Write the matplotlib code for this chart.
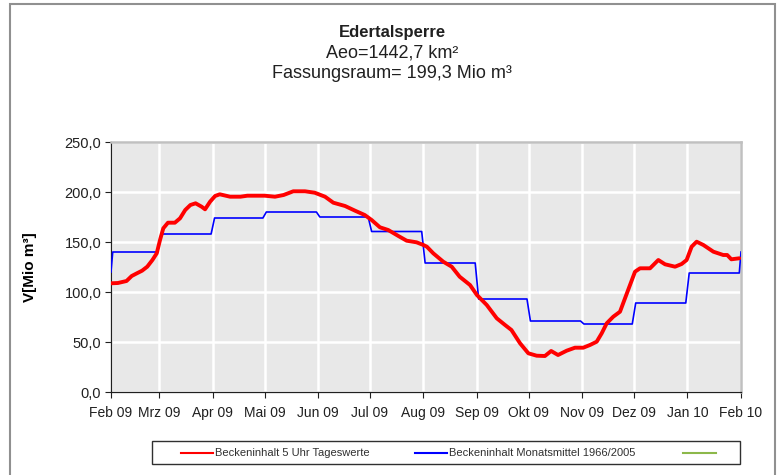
import matplotlib
matplotlib.use("Agg")
import matplotlib.pyplot as plt
from matplotlib.lines import Line2D
from matplotlib.patches import Rectangle
import pandas as pd

plt.rcParams['font.family'] = ['Liberation Sans', 'DejaVu Sans']

# --- data ---
start = pd.Timestamp("2009-02-01")

# daily reservoir content (5 am), sampled by eye: day offset from 1 Feb 2009, Mio m3
red_days = [0, 4, 9, 12, 15, 18, 21, 24, 26.5, 28.4, 30.3, 33, 37, 40, 43, 46, 49,
            52.5, 54.5, 57.4, 60.3, 63, 69, 75, 79, 89, 95, 100, 105.6, 112.4, 118,
            124, 128.8, 135.6, 141.4, 147, 151, 155.8, 160.6, 166.5, 171.3, 177, 181,
            183, 186.7, 192.5, 197.4, 202, 208, 212, 217.7, 223.5, 228.3, 232, 237,
            241.8, 246.6, 251.4, 255, 259, 264, 268.8, 273.6, 277.5, 281.4, 284.3,
            287.2, 291, 294.9, 297.8, 300.7, 303.6, 306.5, 312.3, 317.1, 321, 326.8,
            330.6, 333.5, 336.4, 339.3, 343.2, 349, 354.7, 357, 359.4, 364]
red_values = [108.7, 109, 111, 116, 118.7, 121.3, 125.3, 132, 138.7, 152, 163.7, 169.3,
              169.3, 173.7, 182, 187, 188.7, 185.3, 182.7, 190.3, 196, 197.7, 195.3,
              195.3, 196.3, 196.3, 195.3, 197, 200.7, 200.7, 199.3, 195.3, 189.3, 186,
              181.3, 177, 172, 164.7, 162, 156, 151.3, 149.7, 147, 145.3, 138.7, 130.3,
              125.3, 115.3, 107, 97, 87, 73.7, 67, 62, 48.7, 38.7, 36.3, 36, 41, 37,
              41.3, 44.3, 44.3, 47, 50.3, 58.7, 68.7, 75.3, 80.3, 93.7, 107, 120.3,
              123.7, 123.7, 132, 127.7, 125.3, 128, 132, 145.3, 150.3, 147, 140.3, 137,
              137, 132.7, 133.7]

# monthly mean 1966/2005
month_starts = ["2009-02-01", "2009-03-01", "2009-04-01", "2009-05-01", "2009-06-01",
                "2009-07-01", "2009-08-01", "2009-09-01", "2009-10-01", "2009-11-01",
                "2009-12-01", "2010-01-01", "2010-02-01"]
month_means = [140, 158, 174, 180, 175, 160.5, 129, 93, 71, 68, 89, 119, 140]
first_value = 120

tick_labels = ["Feb 09", "Mrz 09", "Apr 09", "Mai 09", "Jun 09", "Jul 09", "Aug 09",
               "Sep 09", "Okt 09", "Nov 09", "Dez 09", "Jan 10", "Feb 10"]

red_x = [start + pd.Timedelta(days=d) for d in red_days]
ms = pd.to_datetime(month_starts)

# step line: hold each monthly mean to the last day of its month
blue_x = [ms[0]]
blue_y = [first_value]
for i in range(len(ms) - 1):
    blue_x += [ms[i] + pd.Timedelta(days=1), ms[i + 1] - pd.Timedelta(days=1)]
    blue_y += [month_means[i], month_means[i]]
blue_x.append(ms[-1])
blue_y.append(month_means[-1])

fig = plt.figure(figsize=(7.82, 4.75), dpi=100, facecolor='white')
ax = fig.add_axes([111 / 782, 1 - 392 / 475, 630 / 782, 250 / 475])
ax.set_facecolor('#e8e8e8')

ax.plot(blue_x, blue_y, color='#0000ff', lw=1.2, zorder=3)
ax.plot(red_x, red_values, color='#ff0000', lw=2.8, zorder=4,
        solid_capstyle='round', solid_joinstyle='round')

ax.set_xlim(ms[0], ms[-1])
ax.set_ylim(0, 250)
ax.set_xticks(ms)
ax.set_xticklabels(tick_labels, fontsize=10, color='#202020')
ax.set_yticks([0, 50, 100, 150, 200, 250])
ax.set_yticklabels(["0,0", "50,0", "100,0", "150,0", "200,0", "250,0"],
                   fontsize=10.5, color='#202020')
ax.tick_params(axis='both', direction='out', length=4, width=0.8, color='#202020')
ax.tick_params(axis='x', pad=6)
ax.tick_params(axis='y', pad=3)
ax.grid(True, color='white', lw=1.8)
ax.set_axisbelow(True)

for side in ['top', 'right']:
    ax.spines[side].set_color('#c0c0c0')
    ax.spines[side].set_linewidth(1.8)
for side in ['left', 'bottom']:
    ax.spines[side].set_color('#202020')
    ax.spines[side].set_linewidth(0.9)

ax.set_ylabel("V[Mio m³]", fontsize=11, fontweight='bold', labelpad=20)

# titles
fig.text(392 / 782, 1 - 33 / 475, "Edertalsperre", fontsize=12, fontweight='bold',
         ha='center', va='center', color='#202020')
fig.text(392 / 782, 1 - 53 / 475, "Aeo=1442,7 km²", fontsize=13,
         ha='center', va='center', color='#202020')
fig.text(392 / 782, 1 - 73 / 475, "Fassungsraum= 199,3 Mio m³", fontsize=13,
         ha='center', va='center', color='#202020')

# outer chart frame
fig.patches.append(Rectangle((10 / 782, -0.05), 765 / 782, 1.05 - 4 / 475,
                             transform=fig.transFigure, fill=False,
                             edgecolor='#909090', lw=1.5))

# legend box
fig.patches.append(Rectangle((152 / 782, 1 - 464 / 475), 588 / 782, 23 / 475,
                             transform=fig.transFigure, fill=False,
                             edgecolor='#303030', lw=1.0))
ly = 1 - 453 / 475
legend_items = [(181, 213, '#ff0000', "Beckeninhalt 5 Uhr Tageswerte"),
                (415, 447, '#0000ff', "Beckeninhalt Monatsmittel 1966/2005"),
                (683, 716, '#8cb84a', "")]
for x0, x1, c, lab in legend_items:
    fig.add_artist(Line2D([x0 / 782, x1 / 782], [ly, ly], transform=fig.transFigure,
                          color=c, lw=1.5))
    if lab:
        fig.text((x1 + 2) / 782, ly, lab, fontsize=8, ha='left', va='center',
                 color='#303030')

fig.savefig("out.png", dpi=100, facecolor='white')
